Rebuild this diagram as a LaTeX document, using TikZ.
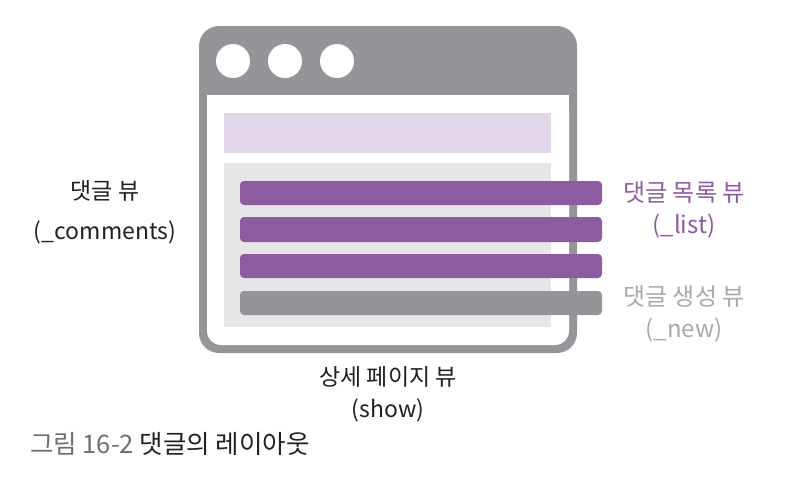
\documentclass[tikz,border=0pt]{standalone}
\usepackage{fontspec}
\setmainfont{Noto Sans CJK KR}
\newfontfamily\kr{Noto Sans CJK KR}
\definecolor{wgray}{HTML}{939598}
\definecolor{lav}{HTML}{E2D6EA}
\definecolor{lgray}{HTML}{E6E6E6}
\definecolor{purp}{HTML}{8E5BA0}
\definecolor{tgray}{HTML}{A7A9AC}
\definecolor{ink}{HTML}{231F20}
\definecolor{capgray}{HTML}{6D6E71}
\begin{document}
\begin{tikzpicture}[x=1pt,y=-1pt,
  bar/.style={rounded corners=4pt},
  lbl/.style={align=center,font=\kr\fontsize{23}{40}\selectfont,inner sep=0pt},
  slbl/.style={align=center,font=\kr\fontsize{23}{32}\selectfont,inner sep=0pt},
  rlbl/.style={align=center,font=\kr\fontsize{24}{32}\selectfont,inner sep=0pt}]
\useasboundingbox (0,0) rectangle (789,491);
% window
\fill[wgray,rounded corners=20pt] (199,26) rectangle (577,353);
\fill[white,rounded corners=14pt] (207,95) -- (569,95) -- (569,345) -- (207,345) -- cycle;
\fill[white] (207,95) rectangle (569,120);
\foreach \cx/\n in {233/a,285/b,337/c}
  \fill[white] (\cx,61) circle (17);
\fill[lav] (224,113) rectangle (551,153);
\fill[lgray] (224,163) rectangle (551,327);
% bars
\fill[purp,bar] (240,181) rectangle (602,205);
\fill[purp,bar] (240,217) rectangle (602,242);
\fill[purp,bar] (240,254) rectangle (602,278);
\fill[wgray,bar] (240,291) rectangle (602,315);
% labels
\node[rlbl,text=purp] (list) at (684,210) {댓글 목록 뷰\\(\_list)};
\node[rlbl,text=tgray] (new) at (684,314) {댓글 생성 뷰\\(\_new)};
\node[lbl,text=ink] (comments) at (105,212) {댓글 뷰\\(\_comments)};
\node[slbl,text=ink] (show) at (388,394) {상세 페이지 뷰\\(show)};
\node[anchor=west,inner sep=0pt,font=\kr\fontsize{25.5}{30}\selectfont] (cap) at (30,444) {\textcolor{capgray}{그림 16-2} \textcolor{ink}{댓글의 레이아웃}};
\end{tikzpicture}
\end{document}
